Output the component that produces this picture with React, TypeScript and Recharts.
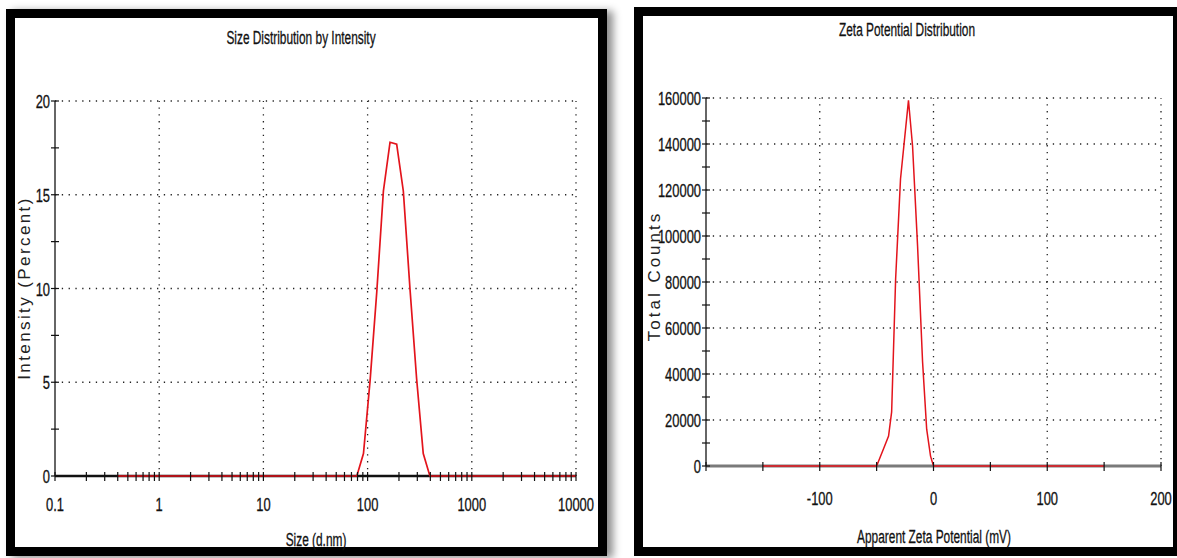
import { LineChart, Line, XAxis, YAxis, ReferenceLine } from "recharts";

// size distribution (Malvern bins, d.nm) and intensity %
const sizes = [0.4, 1, 10, 50, 78.82, 91.28, 105.7, 122.4, 141.8, 164.2, 190.1, 220.2, 255.0, 295.3, 342.0, 396.1, 1000, 10000];
const intensity = [0, 0, 0, 0, 0, 1.2, 5.1, 9.8, 15.2, 17.8, 17.7, 15.2, 10.0, 5.2, 1.2, 0, 0, 0];

// zeta potential (mV) and total counts
const zeta = [-150, -50, -44, -39.5, -36.8, -33.3, -29, -22, -18.4, -14, -9.6, -6, -2.6, 0, 150];
const counts = [0, 0, 7400, 13000, 23500, 81300, 124800, 159000, 139000, 95600, 45200, 16000, 4300, 0, 0];

const sizeMajorTicks = [0.1, 1, 10, 100, 1000, 10000];
const sizeMinorTicks = [0.1, 1, 10, 100, 1000].flatMap((d) => [2, 3, 4, 5, 6, 7, 8, 9].map((m) => +(d * m).toPrecision(3)));
const intensityMajorTicks = [0, 5, 10, 15, 20];
const intensityMinorTicks = [2.5, 7.5, 12.5, 17.5];
const zetaTicks = [-200, -150, -100, -50, 0, 50, 100, 150, 200];
const zetaLabelTicks = [-100, 0, 100, 200];
const zetaGrid = [-100, 0, 100, 200];
const countMajorTicks = [0, 20000, 40000, 60000, 80000, 100000, 120000, 140000, 160000];
const countMinorTicks = [10000, 30000, 50000, 70000, 90000, 110000, 130000, 150000];

const sizeData = sizes.map((s, i) => ({ size: s, intensity: intensity[i] }));
const zetaData = zeta.map((z, i) => ({ zeta: z, counts: counts[i] }));

const SANS = '"Liberation Sans", Arial, sans-serif';
const TICK_X = 0.68;
const TITLE_X = 0.66;
const RED = "#e3141c";
const INK = "#111";

const XTick = ({ x, y, payload, labels, dy }: any) => {
  const show = labels.includes(payload.value);
  return (
    <g>
      <line x1={x} x2={x} y1={y - 4} y2={y + 5} stroke="#111" strokeWidth={1.2} />
      {show && (
        <text
          transform={`translate(${x},${y + dy}) scale(${TICK_X},1)`}
          textAnchor="middle"
          fontFamily={SANS}
          fontSize={19}
          fill={INK}
          stroke={INK}
          strokeWidth={0.3}
        >
          {payload.value}
        </text>
      )}
    </g>
  );
};

const YTick = ({ x, y, payload, labels }: any) => {
  const show = labels.includes(payload.value);
  return (
    <g>
      <line x1={x - 4} x2={x + 4} y1={y} y2={y} stroke="#111" strokeWidth={1.2} />
      {show && (
        <text
          transform={`translate(${x - 5},${y + 7}) scale(${TICK_X},1)`}
          textAnchor="end"
          fontFamily={SANS}
          fontSize={19}
          fill={INK}
          stroke={INK}
          strokeWidth={0.3}
        >
          {payload.value}
        </text>
      )}
    </g>
  );
};

const gridProps = { stroke: "#222", strokeWidth: 1.3, strokeDasharray: "1.3 5.5" };

const Title = ({ x, y, children }: any) => (
  <div
    style={{
      position: "absolute",
      left: x,
      top: y,
      transform: `translate(-50%, -50%) scaleX(${TITLE_X})`,
      fontFamily: SANS,
      fontSize: 18,
      color: INK,
      WebkitTextStroke: "0.3px #111",
      whiteSpace: "nowrap",
    }}
  >
    {children}
  </div>
);

const VTitle = ({ x, y, spacing, children }: any) => (
  <div
    style={{
      position: "absolute",
      left: x,
      top: y,
      transform: "translate(-50%, -50%) rotate(-90deg)",
      fontFamily: SANS,
      fontSize: 17,
      letterSpacing: spacing,
      color: "#222",
      whiteSpace: "nowrap",
    }}
  >
    {children}
  </div>
);

const SizeChart = () => (
  <LineChart width={612} height={558} data={sizeData} margin={{ top: 101, bottom: 52, left: 25, right: 36 }}>
    {sizeMajorTicks.slice(1).map((v) => (
      <ReferenceLine key={"v" + v} x={v} {...gridProps} />
    ))}
    {intensityMajorTicks.slice(1).map((v) => (
      <ReferenceLine key={"h" + v} y={v} {...gridProps} />
    ))}
    <ReferenceLine y={0} stroke="#111" strokeWidth={2.4} />
    <XAxis
      dataKey="size"
      type="number"
      scale="log"
      domain={[0.1, 10000]}
      allowDataOverflow
      ticks={[...sizeMajorTicks, ...sizeMinorTicks].sort((a, b) => a - b)}
      interval={0}
      height={30}
      tickSize={0}
      tickMargin={0}
      tickLine={false}
      axisLine={false}
      tick={(p: any) => <XTick {...p} labels={sizeMajorTicks} dy={35} />}
    />
    <YAxis
      type="number"
      domain={[0, 20]}
      ticks={[...intensityMajorTicks, ...intensityMinorTicks].sort((a, b) => a - b)}
      interval={0}
      width={30}
      tickSize={0}
      tickMargin={0}
      tickLine={false}
      axisLine={{ stroke: "#333", strokeWidth: 1.5 }}
      tick={(p: any) => <YTick {...p} labels={intensityMajorTicks} />}
    />
    <Line dataKey="intensity" type="linear" stroke={RED} strokeWidth={1.7} dot={false} isAnimationActive={false} />
  </LineChart>
);

const ZetaChart = () => (
  <LineChart width={1177 - 634} height={558} data={zetaData} margin={{ top: 98, bottom: 62, left: 42, right: 16 }}>
    {zetaGrid.map((v) => (
      <ReferenceLine key={"v" + v} x={v} {...gridProps} />
    ))}
    {countMajorTicks.slice(1).map((v) => (
      <ReferenceLine key={"h" + v} y={v} {...gridProps} />
    ))}
    <ReferenceLine y={0} stroke="#7a7a7a" strokeWidth={3} />
    <XAxis
      dataKey="zeta"
      type="number"
      domain={[-200, 200]}
      ticks={zetaTicks}
      interval={0}
      height={30}
      tickSize={0}
      tickMargin={0}
      tickLine={false}
      axisLine={false}
      tick={(p: any) => <XTick {...p} labels={zetaLabelTicks} dy={39} />}
    />
    <YAxis
      type="number"
      domain={[0, 160000]}
      ticks={[...countMajorTicks, ...countMinorTicks].sort((a, b) => a - b)}
      interval={0}
      width={30}
      tickSize={0}
      tickMargin={0}
      tickLine={false}
      axisLine={{ stroke: "#333", strokeWidth: 1.5 }}
      tick={(p: any) => <YTick {...p} labels={countMajorTicks} />}
    />
    <Line dataKey="counts" type="linear" stroke={RED} strokeWidth={1.5} dot={false} isAnimationActive={false} />
  </LineChart>
);

export default function App() {
  return (
    <div style={{ position: "absolute", left: 0, top: 0, width: 1177, height: 558, overflow: "hidden", background: "#fff" }}>
      <div
        style={{
          position: "absolute",
          left: 6,
          top: 9,
          width: 601,
          height: 547,
          border: "9px solid #000",
          boxSizing: "border-box",
          boxShadow: "6px 2px 8px rgba(0,0,0,0.45)",
        }}
      />
      <div
        style={{
          position: "absolute",
          left: 634,
          top: 7,
          width: 548,
          height: 549,
          border: "9px solid #000",
          boxSizing: "border-box",
        }}
      />
      <div style={{ position: "absolute", left: 0, top: 0 }}>
        <SizeChart />
      </div>
      <div style={{ position: "absolute", left: 634, top: 0 }}>
        <ZetaChart />
      </div>
      <Title x={301} y={38}>Size Distribution by Intensity</Title>
      <Title x={316} y={540}>Size (d.nm)</Title>
      <VTitle x={25} y={288} spacing={2.4}>Intensity (Percent)</VTitle>
      <Title x={907} y={30}>Zeta Potential Distribution</Title>
      <Title x={934} y={537}>Apparent Zeta Potential (mV)</Title>
      <VTitle x={655} y={276} spacing={3}>Total Counts</VTitle>
    </div>
  );
}
